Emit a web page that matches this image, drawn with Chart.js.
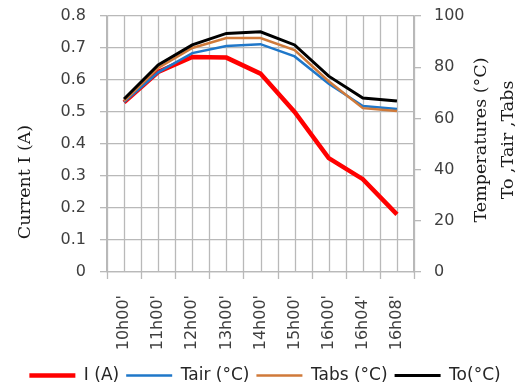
<!DOCTYPE html>
<html>
<head>
<meta charset="utf-8">
<script src="https://cdn.jsdelivr.net/npm/chart.js@4.4.1/dist/chart.umd.min.js"></script>
<style>
  html, body { margin: 0; padding: 0; background: #fff; }
  #wrap { width: 530px; height: 391px; }
</style>
</head>
<body>
<div id="wrap"><canvas id="tempChart" width="530" height="391"></canvas></div>
<script>
// Time of measurement
const times = ["10h00'", "11h00'", "12h00'", "13h00'", "14h00'", "15h00'", "16h00'", "16h04'", "16h08'"];

// Current (A), left axis
const currentI = [0.53, 0.625, 0.672, 0.67, 0.62, 0.50, 0.356, 0.29, 0.18];

// Temperatures (°C), right axis
const tAir = [66.4, 78, 85.5, 88.3, 89, 84.2, 73.5, 64.8, 63.7];
const tAbs = [66.8, 79.7, 87.5, 91.4, 91.4, 86.7, 74.5, 64, 62.9];
const tO = [67.6, 80.9, 88.7, 93.2, 93.8, 88.7, 76.5, 68, 66.8];

const gridColor = '#b9b9b9';
const tickColor = '#3f3f3f';

// Vertical gridlines: one at every category edge and one through every category
const vGrid = {
    id: 'vGrid',
    beforeDatasetsDraw(chart) {
        const ctx = chart.ctx;
        const area = chart.chartArea;
        const xScale = chart.scales.x;
        ctx.save();
        ctx.strokeStyle = gridColor;
        ctx.lineWidth = 1.3;
        for (let v = -0.5; v <= times.length - 0.5; v += 0.5) {
            const px = Math.round(xScale.getPixelForValue(v)) + 0.5;
            const isEdge = Math.abs(v % 1) === 0.5;
            ctx.beginPath();
            ctx.moveTo(px, area.top);
            ctx.lineTo(px, area.bottom + (isEdge ? 7 : 0));
            ctx.stroke();
        }
        ctx.restore();
    }
};

// Axis titles drawn reading bottom-to-top on both sides
const axisTitles = {
    id: 'axisTitles',
    afterDraw(chart) {
        const ctx = chart.ctx;
        const area = chart.chartArea;
        ctx.save();
        ctx.fillStyle = '#1a1a1a';
        ctx.font = '17.5px "DejaVu Serif"';
        ctx.textAlign = 'center';
        ctx.textBaseline = 'middle';

        ctx.save();
        ctx.translate(25, 182);
        ctx.rotate(-Math.PI / 2);
        ctx.fillText('Current I (A)', 0, 0);
        ctx.restore();

        const midY = (area.top + area.bottom) / 2 - 4;
        ctx.save();
        ctx.translate(481, midY);
        ctx.rotate(-Math.PI / 2);
        ctx.fillText('Temperatures (°C)', 0, 0);
        ctx.restore();

        ctx.save();
        ctx.translate(508, midY);
        ctx.rotate(-Math.PI / 2);
        ctx.fillText('To ,Tair ,Tabs', 0, 0);
        ctx.restore();

        ctx.restore();
    }
};

Chart.defaults.font.family = '"DejaVu Sans"';
Chart.defaults.font.size = 16;
Chart.defaults.color = tickColor;

const data = {
    labels: times,
    datasets: [
        {
            label: 'I (A)',
            data: currentI,
            yAxisID: 'y',
            borderColor: '#ff0000',
            backgroundColor: '#ff0000',
            borderWidth: 4.5,
            order: 3
        },
        {
            label: 'Tair (°C)',
            data: tAir,
            yAxisID: 'y1',
            borderColor: '#1f77c9',
            backgroundColor: '#1f77c9',
            borderWidth: 2.5,
            order: 2
        },
        {
            label: 'Tabs (°C)',
            data: tAbs,
            yAxisID: 'y1',
            borderColor: '#d07a3a',
            backgroundColor: '#d07a3a',
            borderWidth: 2.5,
            order: 1
        },
        {
            label: 'To(°C)',
            data: tO,
            yAxisID: 'y1',
            borderColor: '#000000',
            backgroundColor: '#000000',
            borderWidth: 3,
            order: 0
        }
    ]
};

// keep the y axes from pushing the plot top down
function fixVertical(width) {
    return function (scale) {
        scale.width = width;
        scale.paddingTop = 0;
        scale.paddingBottom = 0;
    };
}

const config = {
    type: 'line',
    data: data,
    options: {
        responsive: false,
        animation: false,
        layout: {
            padding: { left: 0, right: 0, top: 16, bottom: -3 }
        },
        elements: {
            line: { tension: 0, borderCapStyle: 'butt', borderJoinStyle: 'miter' },
            point: { radius: 0, hoverRadius: 0, pointStyle: 'line' }
        },
        plugins: {
            legend: {
                position: 'bottom',
                labels: {
                    usePointStyle: true,
                    pointStyleWidth: 46,
                    padding: 7,
                    color: '#262626',
                    font: { size: 17 },
                    sort: (a, b) => a.datasetIndex - b.datasetIndex
                }
            },
            tooltip: { enabled: false }
        },
        scales: {
            x: {
                type: 'category',
                position: 'bottom',
                offset: true,
                grid: {
                    display: false
                },
                border: { color: gridColor, width: 1.3 },
                ticks: {
                    maxRotation: 90,
                    minRotation: 90,
                    padding: 15,
                    autoSkip: false
                },
                afterFit(scale) { scale.height = 88; }
            },
            y: {
                position: 'left',
                min: 0,
                max: 0.8,
                grid: {
                    color: gridColor,
                    lineWidth: 1.3,
                    tickLength: 7
                },
                border: { color: gridColor, width: 1.3 },
                ticks: {
                    stepSize: 0.1,
                    padding: 14
                },
                afterFit: fixVertical(107)
            },
            y1: {
                position: 'right',
                min: 0,
                max: 100,
                grid: {
                    drawOnChartArea: false,
                    color: gridColor,
                    lineWidth: 1.3,
                    tickLength: 7
                },
                border: { color: gridColor, width: 1.3 },
                ticks: {
                    stepSize: 20,
                    padding: 13
                },
                afterFit: fixVertical(116)
            }
        }
    },
    plugins: [vGrid, axisTitles]
};

new Chart(document.getElementById('tempChart'), config);
</script>
</body>
</html>
